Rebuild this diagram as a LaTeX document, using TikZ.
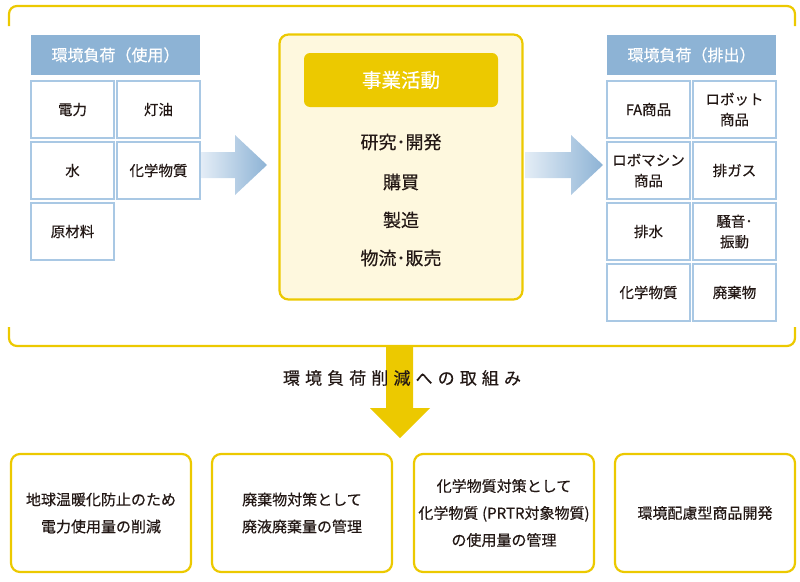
\documentclass[tikz,border=0pt]{standalone}
\usepackage{fontspec}
\setmainfont{Noto Sans CJK JP}[FakeBold=0.35]
\newfontfamily\spaced{Noto Sans CJK JP}[LetterSpace=30,FakeBold=0.35]
\definecolor{ylw}{HTML}{ECC900}
\definecolor{cream}{HTML}{FEF8DE}
\definecolor{hblue}{HTML}{8DB3D5}
\definecolor{cblue}{HTML}{A9C8E4}
\definecolor{lblue}{HTML}{E4EDF6}
\definecolor{txt}{HTML}{231815}
\begin{document}
\begin{tikzpicture}[x=1pt,y=-1pt,
  hdr/.style={fill=hblue, draw=none, minimum width=169pt, minimum height=40pt, text=white, font=\fontsize{16}{19}\selectfont, inner sep=0pt},
  cell/.style={draw=cblue, line width=1.2pt, fill=white, minimum width=83pt, minimum height=57pt, text=txt, font=\fontsize{14.5}{20.5}\selectfont, align=center, inner sep=0pt},
  item/.style={text=txt, font=\fontsize{18}{21}\selectfont, inner sep=0pt},
  goal/.style={draw=ylw, line width=2.2pt, rounded corners=9pt, fill=white, minimum width=180pt, minimum height=118pt, text=txt, font=\fontsize{15}{27}\selectfont, align=center, inner sep=0pt}
]
\useasboundingbox (0,0) rectangle (800,581);
% big bracket frame
\draw[ylw, line width=2.2pt, rounded corners=8pt] (9,26) -- (9,6) -- (795,6) -- (795,26);
\draw[ylw, line width=2.2pt, rounded corners=8pt] (9,327) -- (9,346) -- (795,346) -- (795,327);

% left block
\node[hdr] (lh) at (115.5,55) {環境負荷（使用）};
\node[cell] (l11) at (72.5,109.5) {電力};
\node[cell] (l12) at (158.5,109.5) {灯油};
\node[cell] (l21) at (72.5,170.5) {水};
\node[cell] (l22) at (158.5,170.5) {化学物質};
\node[cell] (l31) at (72.5,231.5) {原材料};

% center block
\node[draw=ylw, line width=2.2pt, fill=cream, rounded corners=9pt, minimum width=243pt, minimum height=265pt, inner sep=0pt] (cb) at (401,167) {};
\node[fill=ylw, rounded corners=6pt, minimum width=194pt, minimum height=54pt, text=white, font=\fontsize{19.5}{22}\selectfont, inner sep=0pt] (ch) at (401,80) {事業活動};
\node[item] (c1) at (401,142) {研究･開発};
\node[item] (c2) at (401,182) {購買};
\node[item] (c3) at (401,220) {製造};
\node[item] (c4) at (401,258) {物流･販売};

% right block
\node[hdr] (rh) at (691.5,55) {環境負荷（排出）};
\node[cell] (r11) at (648.5,109.5) {FA商品};
\node[cell] (r12) at (734.5,109.5) {ロボット\\商品};
\node[cell] (r21) at (648.5,170.5) {ロボマシン\\商品};
\node[cell] (r22) at (734.5,170.5) {排ガス};
\node[cell] (r31) at (648.5,231.5) {排水};
\node[cell] (r32) at (734.5,231.5) {騒音･\\振動};
\node[cell] (r41) at (648.5,292.5) {化学物質};
\node[cell] (r42) at (734.5,292.5) {廃棄物};

% gradient arrows
\shade[left color=lblue, right color=hblue] (201,152) -- (235,152) -- (235,135) -- (267,165) -- (235,195) -- (235,178) -- (201,178) -- cycle;
\shade[left color=lblue, right color=hblue] (525,152) -- (571,152) -- (571,135) -- (603,165) -- (571,195) -- (571,178) -- (525,178) -- cycle;

% down arrow
\fill[ylw] (386,347) -- (413,347) -- (413,408) -- (430,408) -- (400,438) -- (370,408) -- (386,408) -- cycle;
\node[text=txt, font=\spaced\fontsize{17}{20}\selectfont, inner sep=0pt] (lbl) at (402,378) {環境負荷削減への取組み};

% goal boxes
\node[goal] (g1) at (101,513) {地球温暖化防止のため\\電力使用量の削減};
\node[goal] (g2) at (302,513) {廃棄物対策として\\廃液廃棄量の管理};
\node[goal] (g3) at (504,513) {化学物質対策として\\化学物質\hspace{0.25em}(PRTR対象物質)\\の使用量の管理};
\node[goal] (g4) at (705,513) {環境配慮型商品開発};
\end{tikzpicture}
\end{document}
